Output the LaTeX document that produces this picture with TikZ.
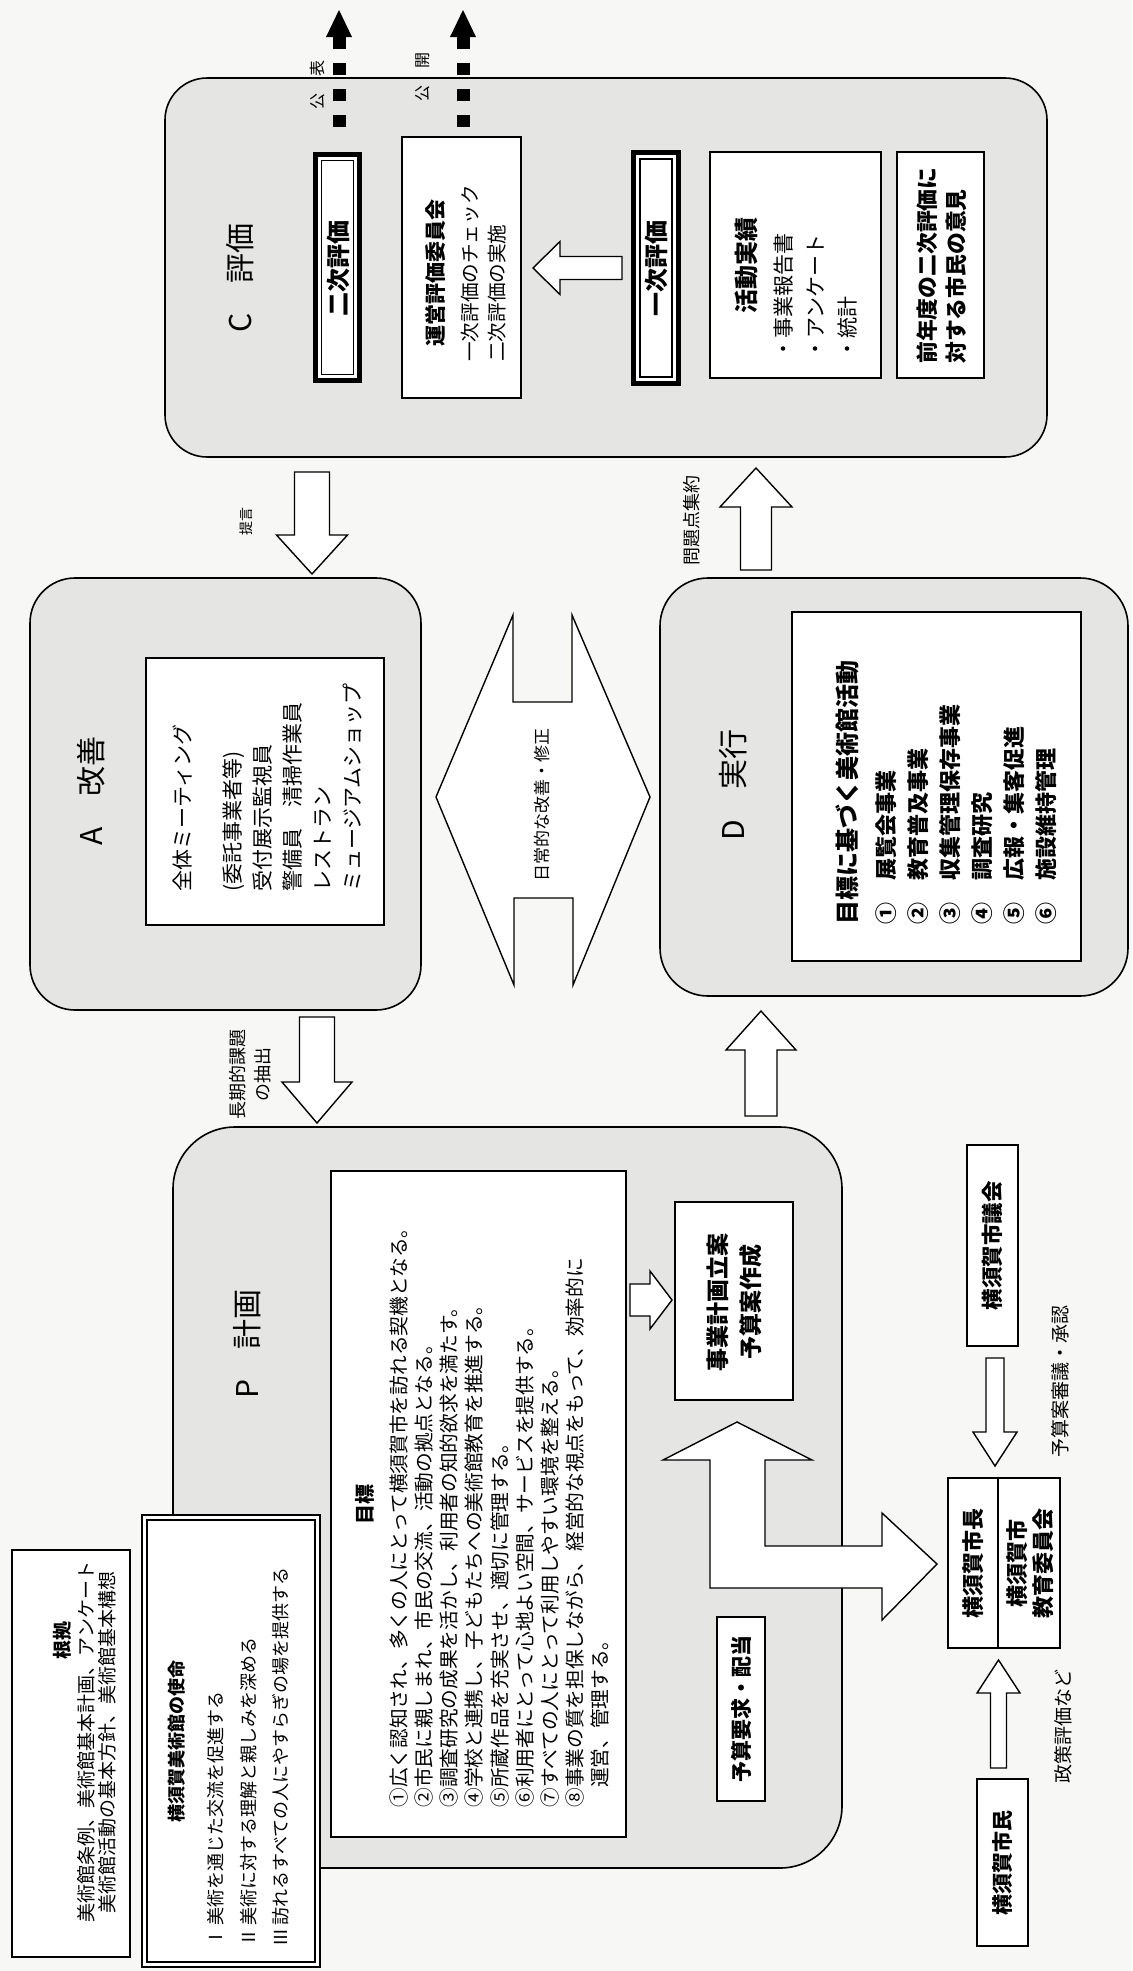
\documentclass[tikz,border=0pt]{standalone}
\usepackage{fontspec}
\setmainfont{Noto Sans CJK JP}
\definecolor{pagebg}{RGB}{247,247,245}
\definecolor{boxbg}{RGB}{229,229,227}
\newcommand\fsz[2]{\fontsize{#1pt}{#2pt}\selectfont}
% vertical block arrow: cx, tip, base, tail, half head, half shaft
\newcommand\vblockarrow[6]{%
  \draw[blk] (#1,#2) -- ({#1+#5},#3) -- ({#1+#6},#3) -- ({#1+#6},#4) -- ({#1-#6},#4) -- ({#1-#6},#3) -- ({#1-#5},#3) -- cycle;}
% horizontal block arrow: cy, tip, base, tail, half head, half shaft
\newcommand\hblockarrow[6]{%
  \draw[blk] (#2,#1) -- (#3,{#1+#5}) -- (#3,{#1+#6}) -- (#4,{#1+#6}) -- (#4,{#1-#6}) -- (#3,{#1-#6}) -- (#3,{#1-#5}) -- cycle;}
\begin{document}
\begin{tikzpicture}[x=0.5pt,y=-0.5pt,
  rbox/.style={draw=black, line width=0.8pt, fill=boxbg},
  ibox/.style={draw=black, line width=0.7pt, fill=white},
  blk/.style={draw=black, line width=0.7pt, fill=white, line join=miter},
  vt/.style={rotate=90, inner sep=0pt, text=black},
  dasharrow/.style={line width=6.5pt, dash pattern=on 6pt off 7pt}]
\useasboundingbox (0,0) rectangle (1132,1971);
\fill[pagebg] (0,0) rectangle (1132,1971);

% ================= C box =================
\draw[rbox, rounded corners=21pt] (165,78) rectangle (1047,457);
\node[vt, font=\fsz{15}{18}] (Clabel) at (240,278) {C　評価};
% second evaluation (double frame)
\draw[line width=2.2pt, fill=white] (315.5,154.5) rectangle (359.5,380.5);
\draw[line width=0.6pt] (321.7,160.7) rectangle (353.3,374.3);
\node[vt, font=\bfseries\fsz{12}{14}] (N2) at (338,268) {二次評価};
% committee
\draw[line width=1.3pt, fill=white] (402,137) rectangle (521,398);
\node[vt, font=\bfseries\fsz{10.5}{13}] (Utitle) at (435,273) {運営評価委員会};
\node[vt, anchor=west, align=left, font=\fsz{9.8}{13.5}] (Ulines) at (483.5,362) {一次評価のチェック\\二次評価の実施};
% first evaluation (double frame)
\draw[line width=2.2pt, fill=white] (633.5,152.5) rectangle (678.5,383.5);
\draw[line width=0.6pt] (640,159) rectangle (672,377);
\node[vt, font=\bfseries\fsz{12}{14}] (N1) at (656,268) {一次評価};
% activity results
\draw[ibox] (710,152) rectangle (881,378);
\node[vt, font=\bfseries\fsz{12}{14}] (Katsu) at (746,265) {活動実績};
\node[vt, anchor=west, align=left, font=\fsz{10.5}{16}] (Klines) at (816,360) {・事業報告書\\・アンケート\\・統計};
% citizens' opinion
\draw[ibox] (897,152) rectangle (984,378);
\node[vt, anchor=west, align=left, font=\bfseries\fsz{10.9}{14.5}] (Zen) at (941.5,364) {前年度の二次評価に\\対する市民の意見};
% arrow first -> committee
\hblockarrow{268}{533}{560}{622}{26.5}{11.5}
% dashed publication arrows
\coordinate (pubA0) at (339,127); \coordinate (pubA1) at (339,37);
\coordinate (pubB0) at (463,127); \coordinate (pubB1) at (463,37);
\draw[dasharrow] (pubA0) -- (pubA1);
\fill (326,37) -- (352,37) -- (339,10) -- cycle;
\draw[dasharrow] (pubB0) -- (pubB1);
\fill (450,37) -- (476,37) -- (463,10) -- cycle;
\node[vt, font=\fsz{8}{10}] (PubA) at (317,85) {公\hspace{1.1em}表};
\node[vt, font=\fsz{8}{10}] (PubB) at (423,77) {公\hspace{1.1em}開};

% C -> A
\vblockarrow{312}{574}{535}{472}{35.5}{17.5}
\node[vt, font=\fsz{7}{9}] (Teigen) at (246,521) {提言};

% ================= A box =================
\draw[rbox, rounded corners=22.5pt] (30,578) rectangle (421,1010);
\node[vt, font=\fsz{15}{18}] (Alabel) at (91,791) {A　改善};
\draw[ibox] (146,658) rectangle (384,925);
\node[vt, anchor=west, align=left, font=\fsz{10.5}{15}] (Atext) at (267,892) {全体ミーティング\\[10pt](委託事業者等)\\受付展示監視員\\警備員　清掃作業員\\レストラン\\ミュージアムショップ};

% daily improvement double arrow
\draw[blk] (436,797) -- (513,615) -- (513,702) -- (572,702) -- (572,615) -- (650,797)
  -- (573,985) -- (573,898) -- (514,898) -- (514,985) -- cycle;
\node[vt, font=\fsz{8.5}{10}] (Daily) at (542,805) {日常的な改善・修正};

% D -> C
\vblockarrow{756}{468}{507}{570}{36}{15.5}
\node[vt, font=\fsz{9}{11}] (Mondai) at (692,520) {問題点集約};

% ================= D box =================
\draw[rbox, rounded corners=24pt] (660,578) rectangle (1128,996);
\node[vt, font=\fsz{15}{18}] (Dlabel) at (733,785) {D　実行};
\draw[ibox] (792,612) rectangle (1081,961);
\node[vt, anchor=west, align=left, font=\bfseries\fsz{11}{16}] (Dtext) at (946,925)
  {{\fsz{12}{16}目標に基づく美術館活動}\\[3pt]①　展覧会事業\\②　教育普及事業\\③　収集管理保存事業\\④　調査研究\\⑤　広報・集客促進\\⑥　施設維持管理};

% A -> P
\vblockarrow{317}{1123}{1082}{1017}{35}{17.5}
\node[vt, align=center, font=\fsz{9}{12.5}] (Choki) at (250,1074) {長期的課題\\の抽出};

% P -> D
\vblockarrow{761}{1011}{1050}{1116}{35}{16}

% ================= P box =================
\draw[rbox, rounded corners=31pt] (173,1127) rectangle (842,1868);
\node[vt, font=\fsz{15}{18}] (Plabel) at (247,1344) {P　計画};
\draw[ibox] (331,1171) rectangle (626,1837);
\node[vt, font=\bfseries\fsz{10}{12}] (Mtitle) at (365,1504) {目標};
\node[vt, anchor=west, align=left, font=\fsz{9.85}{12.55}] (Mtext) at (499.5,1808)
  {①広く認知され、多くの人にとって横須賀市を訪れる契機となる。\\
   ②市民に親しまれ、市民の交流、活動の拠点となる。\\
   ③調査研究の成果を活かし、利用者の知的欲求を満たす。\\
   ④学校と連携し、子どもたちへの美術館教育を推進する。\\
   ⑤所蔵作品を充実させ、適切に管理する。\\
   ⑥利用者にとって心地よい空間、サービスを提供する。\\
   ⑦すべての人にとって利用しやすい環境を整える。\\
   ⑧事業の質を担保しながら、経営的な視点をもって、効率的に\\
   \hspace{1em}運営、管理する。};
% small arrow goal -> plan
\hblockarrow{1300}{672}{650}{630}{29}{16}
\draw[ibox] (675,1202) rectangle (793,1400);
\node[vt, align=center, font=\bfseries\fsz{11.5}{16.5}] (Jigyo) at (734,1302) {事業計画立案\\予算案作成};
% L-shaped double arrow
\draw[blk] (737,1422) -- (812,1460) -- (765,1460) -- (765,1546) -- (882,1546) -- (882,1513)
  -- (937,1564) -- (882,1620) -- (882,1588) -- (710,1588) -- (710,1460) -- (663,1460) -- cycle;
\draw[ibox] (717,1617) rectangle (765,1801);
\node[vt, font=\bfseries\fsz{10.5}{12}] (Yosan) at (741,1709) {予算要求・配当};

% ================= mission box =================
\draw[line width=0.6pt, fill=white] (142,1515) rectangle (320,1967);
\draw[line width=0.6pt] (147,1520) rectangle (315,1962);
\node[vt, font=\bfseries\fsz{9}{11}] (Stitle) at (177,1741) {横須賀美術館の使命};
\node[vt, anchor=west, align=left, font=\fsz{9}{16.25}] (Sitems) at (248.5,1947)
  {Ⅰ\,美術を通じた交流を促進する\\Ⅱ\,美術に対する理解と親しみを深める\\Ⅲ\,訪れるすべての人にやすらぎの場を提供する};

% ================= basis box =================
\draw[line width=0.6pt, fill=white] (12,1550) rectangle (130,1957);
\node[vt, font=\bfseries\fsz{9.5}{11}] (Kkyo) at (62,1640) {根拠};
\node[vt, align=center, font=\fsz{9.5}{10.5}] (Ktext) at (97,1742) {美術館条例、美術館基本計画、アンケート\\美術館活動の基本方針、美術館基本構想};

% ================= right column =================
\draw[ibox] (967,1145) rectangle (1018,1346);
\node[vt, font=\bfseries\fsz{10.75}{12}] (Gikai) at (992.5,1245.5) {横須賀市議会};
\vblockarrow{995}{1466}{1432}{1358}{22}{9}
\node[vt, font=\fsz{9.5}{11}] (Shingi) at (1060,1381) {予算案審議・承認};
\draw[ibox] (948,1478) rectangle (1060,1648);
\draw[line width=0.7pt] (998,1478) -- (998,1648);
\node[vt, font=\bfseries\fsz{11}{13}] (Shicho) at (973,1563) {横須賀市長};
\node[vt, align=center, font=\bfseries\fsz{11}{13}] (Kyoiku) at (1030,1563) {横須賀市\\教育委員会};
\vblockarrow{998.5}{1660}{1693}{1768}{21.5}{8}
\node[vt, font=\fsz{9.5}{11}] (Seisaku) at (1063,1726) {政策評価など};
\draw[ibox] (977,1779) rectangle (1028,1946);
\node[vt, font=\bfseries\fsz{10.5}{12}] (Shimin) at (1002.5,1862.5) {横須賀市民};
\end{tikzpicture}
\end{document}
